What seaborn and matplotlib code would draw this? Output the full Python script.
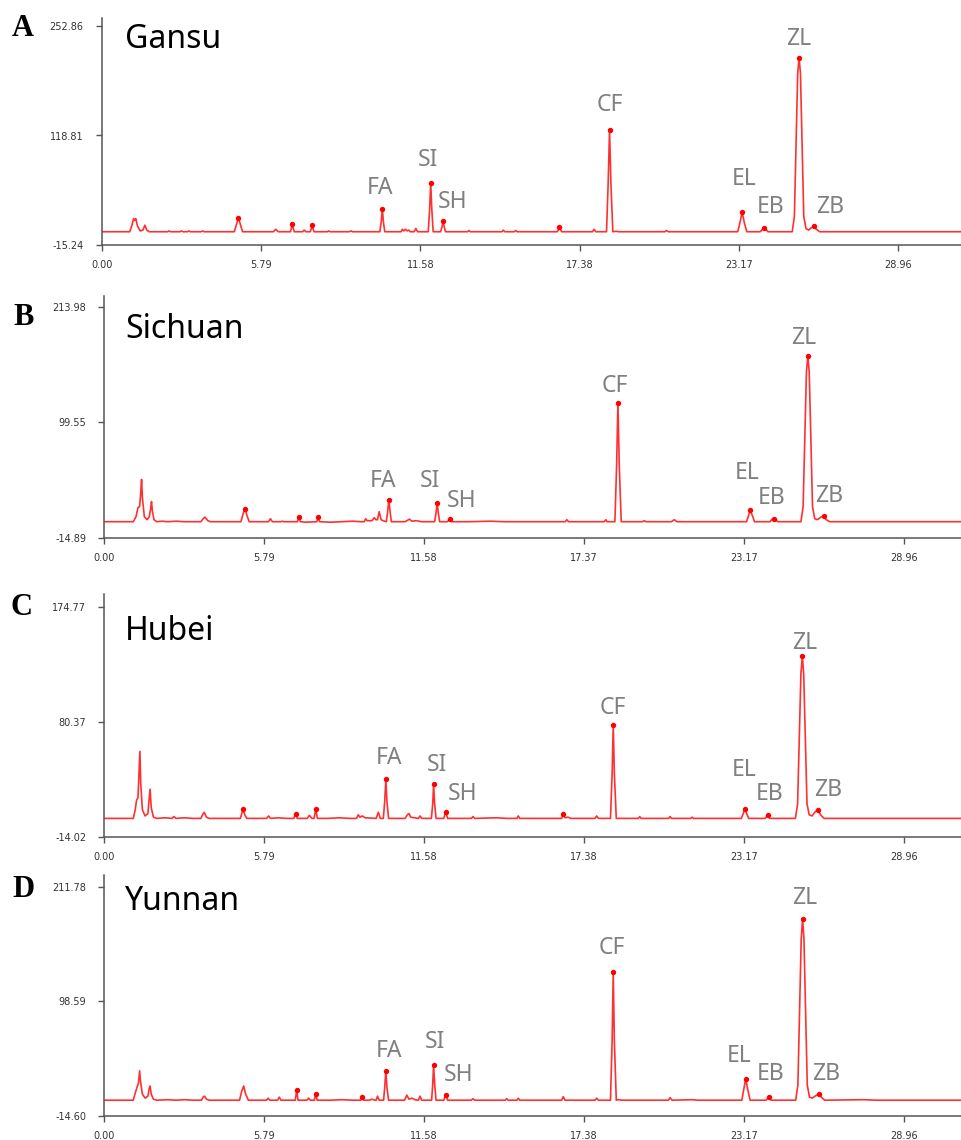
"""
Four HPLC chromatograms (Gansu, Sichuan, Hubei, Yunnan) stacked vertically,
with the marked compound peaks labelled. Saves out.png.
"""
import numpy as np
import matplotlib.pyplot as plt
import seaborn as sns


# --- data -------------------------------------------------------------
regions = ["Gansu", "Sichuan", "Hubei", "Yunnan"]
panel_letters = ["A", "B", "C", "D"]

# y axis ticks (bottom, middle, top) per panel
y_ticks = {
    "A": [-15.24, 118.81, 252.86],
    "B": [-14.89, 99.55, 213.98],
    "C": [-14.02, 80.37, 174.77],
    "D": [-14.60, 98.59, 211.78],
}
x_ticks = [0.0, 5.79, 11.58, 17.38, 23.17, 28.96]
x_tick_labels = {
    "A": ["0.00", "5.79", "11.58", "17.38", "23.17", "28.96"],
    "B": ["0.00", "5.79", "11.58", "17.37", "23.17", "28.96"],
    "C": ["0.00", "5.79", "11.58", "17.38", "23.17", "28.96"],
    "D": ["0.00", "5.79", "11.58", "17.38", "23.17", "28.96"],
}

# chromatogram traces: (retention time min, signal)
trace_A = [
    (0.00, 1), (1.02, 1), (1.10, 9), (1.16, 17), (1.20, 15), (1.24, 17), (1.30, 8), (1.40, 2),
    (1.50, 3), (1.57, 9), (1.64, 3), (1.72, 1), (2.40, 1), (2.45, 2), (2.50, 1), (2.85, 1),
    (2.90, 2), (2.95, 1), (3.12, 1), (3.17, 2), (3.22, 1), (3.62, 1), (3.67, 2), (3.72, 1),
    (4.82, 1), (4.90, 10), (4.97, 18), (5.04, 10), (5.12, 1),
    (6.24, 1), (6.33, 4), (6.42, 1), (6.86, 1), (6.90, 6), (6.93, 11), (6.96, 6), (7.00, 1),
    (7.30, 1), (7.36, 3), (7.42, 1), (7.58, 1), (7.62, 5), (7.65, 9), (7.68, 5), (7.72, 1),
    (8.20, 1), (8.25, 2), (8.30, 1), (9.00, 1), (9.06, 2), (9.12, 1),
    (10.11, 1), (10.16, 13), (10.20, 29), (10.24, 13), (10.29, 1),
    (10.88, 1), (10.93, 4), (10.98, 2), (11.05, 4), (11.10, 2), (11.16, 3), (11.22, 1),
    (11.36, 1), (11.42, 5), (11.48, 1),
    (11.87, 1), (11.92, 28), (11.96, 61), (12.00, 28), (12.05, 1),
    (12.32, 1), (12.37, 7), (12.41, 14), (12.45, 7), (12.50, 1),
    (13.30, 1), (13.35, 2.5), (13.40, 1), (14.55, 1), (14.60, 3), (14.65, 1),
    (15.00, 1), (15.05, 2.5), (15.10, 1),
    (16.56, 1), (16.61, 4), (16.64, 7), (16.67, 4), (16.72, 1),
    (17.84, 1), (17.90, 4), (17.96, 1),
    (18.35, 1), (18.41, 60), (18.46, 126), (18.51, 60), (18.58, 1),
    (18.70, 1.5), (18.80, 1), (20.47, 1), (20.53, 2.5), (20.60, 1),
    (23.12, 1), (23.20, 12), (23.28, 25), (23.36, 12), (23.45, 1),
    (23.94, 1), (24.02, 4), (24.08, 5), (24.14, 4), (24.22, 1),
    (25.10, 1), (25.18, 20), (25.25, 120), (25.30, 195), (25.35, 214), (25.40, 195),
    (25.45, 120), (25.52, 20), (25.60, 5), (25.70, 3), (25.80, 6), (25.89, 7.5), (25.98, 4),
    (26.10, 1),
    (31.30, 1),
]
trace_B = [
    (0.00, 1), (1.05, 1), (1.15, 6), (1.22, 15), (1.28, 16), (1.32, 30), (1.35, 43), (1.38, 25),
    (1.45, 6), (1.55, 3), (1.63, 6), (1.68, 14), (1.71, 21), (1.74, 12), (1.80, 3), (1.90, 1),
    (2.10, 1.5), (2.30, 1), (2.60, 1.5), (2.90, 1),
    (3.50, 1), (3.58, 4), (3.65, 5.5), (3.75, 2), (3.85, 1),
    (4.95, 1), (5.03, 9), (5.10, 14), (5.17, 7), (5.25, 1),
    (5.95, 1), (6.02, 4), (6.09, 1), (6.40, 1), (6.45, 1.5), (6.50, 1),
    (7.00, 1), (7.05, 6), (7.10, 1), (7.30, 0.5), (7.70, 1), (7.75, 5.5), (7.80, 1),
    (8.20, 0.5), (8.60, 1), (9.00, 1.5), (9.30, 1),
    (9.42, 1), (9.47, 4), (9.52, 2), (9.70, 2), (9.78, 5), (9.84, 3), (9.90, 3), (9.96, 11),
    (10.03, 3), (10.10, 2),
    (10.22, 1), (10.27, 12), (10.31, 23), (10.35, 12), (10.40, 1),
    (10.90, 1), (11.05, 3.5), (11.15, 1.5), (11.30, 2), (11.50, 1),
    (11.97, 1), (12.02, 10), (12.06, 20), (12.10, 10), (12.15, 1),
    (12.44, 1), (12.51, 4), (12.58, 1),
    (13.20, 1), (14.00, 1.5), (14.50, 1), (16.70, 1), (16.76, 3), (16.82, 1), (17.60, 1),
    (18.12, 1), (18.17, 3), (18.22, 1),
    (18.50, 1), (18.56, 55), (18.61, 119), (18.66, 55), (18.73, 1),
    (19.50, 1), (19.56, 2), (19.62, 1), (20.55, 1), (20.65, 3), (20.75, 1),
    (23.27, 1), (23.34, 7), (23.41, 12.5), (23.48, 7), (23.56, 1),
    (24.12, 1), (24.20, 3.5), (24.26, 4), (24.32, 3), (24.40, 1),
    (25.24, 1), (25.32, 16), (25.39, 95), (25.44, 150), (25.49, 166), (25.54, 150),
    (25.59, 95), (25.66, 16), (25.74, 4), (25.84, 3), (25.96, 5.5), (26.06, 6.5), (26.16, 3),
    (26.28, 1),
    (31.10, 1),
]
trace_C = [
    (0.00, 1), (1.05, 1), (1.12, 8), (1.17, 16), (1.22, 18), (1.26, 40), (1.29, 56), (1.32, 30),
    (1.38, 8), (1.48, 3), (1.58, 5), (1.62, 16), (1.66, 25), (1.70, 10), (1.78, 2), (1.90, 1),
    (2.20, 1.5), (2.45, 1), (2.52, 2.5), (2.60, 1), (2.90, 1.5), (3.20, 1),
    (3.50, 1), (3.56, 4), (3.62, 6), (3.70, 2), (3.80, 1),
    (4.93, 1), (4.98, 5), (5.03, 8.5), (5.09, 4), (5.16, 1),
    (5.88, 1), (5.95, 3), (6.02, 1), (6.30, 1.5), (6.60, 1),
    (6.87, 1), (6.93, 5), (6.99, 1), (7.35, 1), (7.43, 3.5), (7.52, 1), (7.60, 1), (7.66, 8.5),
    (7.72, 1), (8.10, 1), (8.50, 1.5), (8.90, 1),
    (9.14, 1), (9.20, 4), (9.26, 2), (9.35, 3), (9.45, 1.5), (9.85, 1), (9.93, 6), (10.00, 1),
    (10.11, 1), (10.16, 15), (10.20, 33), (10.24, 15), (10.30, 1),
    (10.90, 1), (10.98, 4), (11.04, 5), (11.10, 2), (11.38, 1), (11.44, 3), (11.50, 1),
    (11.85, 1), (11.90, 13), (11.93, 29), (11.97, 13), (12.02, 1),
    (12.30, 1), (12.37, 6.5), (12.44, 1),
    (13.30, 1), (13.36, 2.5), (13.42, 1), (14.20, 1.5), (14.60, 1), (14.95, 1), (15.00, 3),
    (15.05, 1), (16.57, 1), (16.63, 4.5), (16.69, 1.5), (16.80, 2), (16.90, 1),
    (17.78, 1), (17.84, 3), (17.90, 1),
    (18.34, 1), (18.40, 38), (18.44, 78), (18.48, 38), (18.55, 1),
    (19.35, 1), (19.40, 2.5), (19.45, 1), (20.45, 1), (20.50, 2.5), (20.55, 1),
    (21.25, 1), (21.30, 2), (21.35, 1),
    (23.08, 1), (23.15, 5), (23.21, 9), (23.27, 5), (23.35, 1),
    (23.95, 1), (24.03, 3.5), (24.11, 1),
    (25.04, 1), (25.12, 13), (25.19, 75), (25.24, 120), (25.29, 134), (25.34, 120),
    (25.39, 75), (25.46, 13), (25.54, 4), (25.64, 3), (25.76, 6.5), (25.85, 8), (25.95, 4),
    (26.08, 1),
    (31.10, 1),
]
trace_D = [
    (0.00, 1), (1.05, 1), (1.12, 8), (1.20, 15), (1.24, 18), (1.28, 30), (1.31, 20), (1.38, 7),
    (1.48, 3), (1.58, 5), (1.63, 13), (1.66, 15), (1.70, 7), (1.78, 2), (1.90, 1),
    (2.30, 1.5), (2.60, 1), (2.90, 1.5), (3.20, 1),
    (3.52, 1), (3.58, 4), (3.63, 5), (3.70, 2), (3.80, 1),
    (4.90, 1), (4.98, 10), (5.05, 15), (5.12, 7), (5.22, 1),
    (5.88, 1), (5.94, 3), (6.00, 1), (6.28, 1), (6.34, 4), (6.40, 1),
    (6.92, 1), (6.97, 11), (7.02, 1), (7.34, 1), (7.40, 3), (7.46, 1), (7.61, 1), (7.66, 7.5),
    (7.71, 1), (8.20, 1), (8.60, 1.5), (9.00, 1),
    (9.30, 1), (9.35, 4.5), (9.40, 1), (9.60, 1), (9.70, 2), (9.80, 1), (9.85, 1), (9.90, 5),
    (9.96, 1),
    (10.12, 1), (10.16, 14), (10.20, 30), (10.24, 14), (10.30, 1),
    (10.88, 1), (10.96, 6), (11.04, 2), (11.15, 3), (11.25, 1.5), (11.38, 1), (11.44, 5),
    (11.50, 1),
    (11.86, 1), (11.90, 17), (11.93, 36), (11.97, 17), (12.02, 1),
    (12.30, 1), (12.37, 6.5), (12.44, 1),
    (13.30, 1), (13.36, 2.5), (13.42, 1), (14.53, 1), (14.58, 2.5), (14.63, 1),
    (14.95, 1), (15.00, 3), (15.05, 1), (16.57, 1), (16.63, 4.5), (16.69, 1),
    (17.78, 1), (17.84, 3), (17.90, 1),
    (18.34, 1), (18.40, 60), (18.44, 128), (18.48, 60), (18.55, 1),
    (18.60, 1.5), (18.80, 1), (20.44, 1), (20.50, 3.5), (20.57, 1), (21.30, 1.5), (21.50, 1),
    (23.10, 1), (23.17, 12), (23.24, 22), (23.31, 12), (23.40, 1),
    (23.98, 1), (24.07, 4), (24.16, 1),
    (25.05, 1), (25.13, 16), (25.20, 100), (25.25, 160), (25.30, 180), (25.35, 160),
    (25.40, 100), (25.47, 16), (25.55, 4), (25.65, 3), (25.78, 5.5), (25.88, 7), (25.98, 4),
    (26.10, 1),
    (27.50, 1.5), (28.00, 1), (31.10, 1),
]
traces = {"A": trace_A, "B": trace_B, "C": trace_C, "D": trace_D}

# retention times of the integrated (dotted) peaks
marked_A = [4.97, 6.93, 7.65, 10.20, 11.96, 12.41, 16.64, 18.46, 23.28, 24.08, 25.35, 25.89]
marked_B = [5.10, 7.05, 7.75, 10.31, 12.06, 12.51, 18.61, 23.41, 24.26, 25.49, 26.06]
marked_C = [5.03, 6.93, 7.66, 10.20, 11.93, 12.37, 16.63, 18.44, 23.21, 24.03, 25.29, 25.85]
marked_D = [6.97, 7.66, 9.35, 10.20, 11.93, 12.37, 18.44, 23.24, 24.07, 25.30, 25.88]
marked = {"A": marked_A, "B": marked_B, "C": marked_C, "D": marked_D}

compounds = ["FA", "SI", "SH", "CF", "EL", "EB", "ZL", "ZB"]
# label anchor (time, signal baseline of text)
label_pos = {
    "A": [(10.11, 47), (11.85, 82), (12.76, 30), (18.47, 149), (23.35, 58), (24.33, 24), (25.35, 230), (26.47, 24)],
    "B": [(10.11, 35), (11.80, 35), (12.95, 16), (18.50, 130), (23.28, 43), (24.18, 19), (25.33, 178), (26.27, 21)],
    "C": [(10.32, 46), (12.04, 40), (12.97, 16), (18.41, 87), (23.19, 36), (24.09, 16), (25.39, 140), (26.21, 19)],
    "D": [(10.32, 44), (11.98, 53), (12.83, 20), (18.38, 145), (23.00, 39), (24.16, 21), (25.39, 195), (26.17, 21)],
}

# --- layout (pixel geometry of the original figure) --------------------
W, H = 961, 1140
# left px, bottom px, spine top px, px per minute, px of top tick
layout = {
    "A": (101.7, 245.0, 18.0, 27.51, 26.0),
    "B": (104.3, 537.7, 296.0, 27.6, 307.3),
    "C": (104.3, 836.7, 594.0, 27.6, 606.7),
    "D": (104.3, 1116.0, 875.0, 27.6, 886.7),
}
letter_pos = {"A": (12, 36), "B": (13, 325), "C": (10, 615), "D": (12, 897)}
title_base = {"A": 48, "B": 338, "C": 640, "D": 910}

RED = "#ff3030"
AXIS = "#555555"

sns.set_theme(style="ticks")
plt.rcParams["font.family"] = ["DejaVu Sans"]

fig = plt.figure(figsize=(W / 100, H / 100), dpi=100)

for key, region in zip(panel_letters, regions):
    left, bottom, top, ppm, ttop = layout[key]
    yb, ym, yt = y_ticks[key]
    scale = (yt - yb) / (bottom - ttop)
    ymax = yt + (ttop - top) * scale
    xmax = (W - left) / ppm

    ax = fig.add_axes([left / W, 1 - bottom / H, (W - left) / W, (bottom - top) / H])
    t, s = zip(*traces[key])
    t = np.array(t)
    s = np.array(s)
    sns.lineplot(x=t, y=s, ax=ax, color=RED, linewidth=1.2,
                 estimator=None, sort=False, legend=False)
    mt = np.array(marked[key])
    my = np.interp(mt, t, s)
    sns.scatterplot(x=mt, y=my, ax=ax, color="#ff0000", s=15, linewidth=0, zorder=3)

    for name, (lx, ly) in zip(compounds, label_pos[key]):
        ax.text(lx, ly, name, ha="center", va="baseline", fontsize=16.5,
                color="#808080", family="Noto Sans")

    ax.set_xlim(0, xmax)
    ax.set_ylim(yb, ymax)
    ax.set_xticks(x_ticks)
    ax.set_xticklabels(x_tick_labels[key])
    ax.set_yticks(y_ticks[key])
    ax.set_yticklabels([f"{v:.2f}" for v in y_ticks[key]])
    ax.set_xlabel("")
    ax.set_ylabel("")
    ax.patch.set_alpha(0)
    for side in ["top", "right"]:
        ax.spines[side].set_visible(False)
    for side in ["left", "bottom"]:
        ax.spines[side].set_color(AXIS)
        ax.spines[side].set_linewidth(1.1)
    ax.tick_params(axis="both", length=4, width=1, color=AXIS, labelsize=7,
                   labelcolor="#333333")
    ax.tick_params(axis="y", pad=9)
    ax.tick_params(axis="x", pad=7)

    lx, lb = letter_pos[key]
    fig.text(lx / W, 1 - lb / H, key, ha="left", va="baseline", fontsize=22,
             fontweight="bold", family="Liberation Serif", color="black")
    fig.text(125 / W, 1 - title_base[key] / H, region, ha="left", va="baseline",
             fontsize=23, family="Noto Sans", color="black")

fig.savefig("out.png", dpi=100)
